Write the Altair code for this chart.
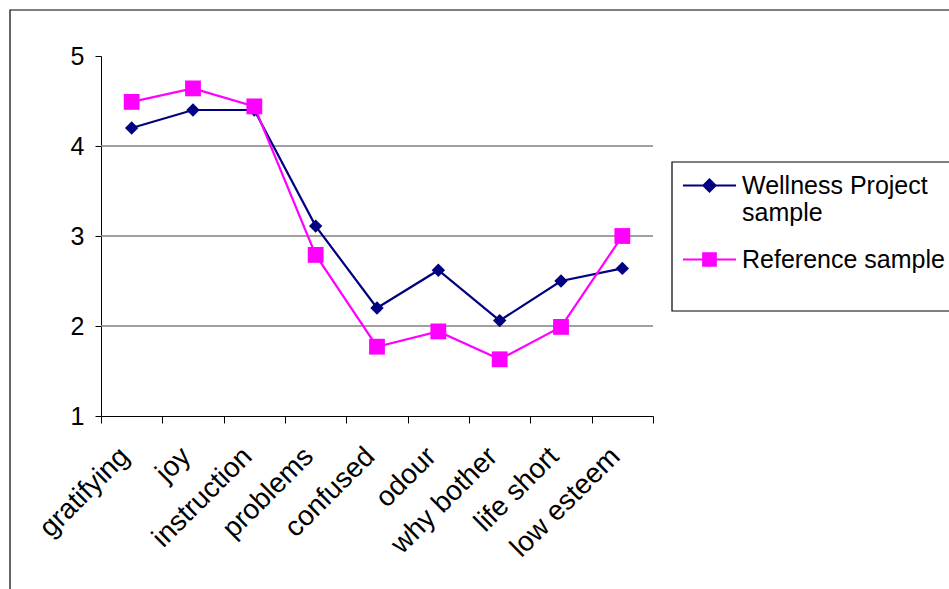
import altair as alt
import pandas as pd

categories = ["gratifying", "joy", "instruction", "problems", "confused",
              "odour", "why bother", "life short", "low esteem"]
wellness = [4.2, 4.4, 4.4, 3.11, 2.2, 2.62, 2.06, 2.5, 2.64]
reference = [4.49, 4.64, 4.44, 2.79, 1.77, 1.94, 1.63, 1.99, 3.0]
series_names = ["Wellness Project sample", "Reference sample"]
series_colors = ["#000080", "#FF00FF"]
y_ticks = [1, 2, 3, 4, 5]
grid_values = [2, 3, 4]

rows = []
for c, w, r in zip(categories, wellness, reference):
    rows.append({"category": c, "series": series_names[0], "value": w})
    rows.append({"category": c, "series": series_names[1], "value": r})
df = pd.DataFrame(rows)

FONT = "Liberation Sans"
FS = 25
W, H = 552, 360

x_enc = alt.X("category:N", sort=categories,
              scale=alt.Scale(paddingInner=0, paddingOuter=0),
              axis=alt.Axis(title=None, labelAngle=315, labelAlign="right",
                            labelBaseline="middle", labelFontSize=28,
                            labelFont=FONT, labelColor="black", labelPadding=29,
                            labelOffset=-7,
                            tickBand="extent", tickSize=7, tickColor="black",
                            domainColor="black", labelLimit=0, grid=False))
y_enc = alt.Y("value:Q", scale=alt.Scale(domain=[1, 5], nice=False, zero=False),
              axis=alt.Axis(title=None, values=y_ticks, grid=False,
                            labelFontSize=FS, labelFont=FONT, labelColor="black",
                            labelPadding=11, tickSize=6, tickColor="black",
                            domainColor="black", format="d"))

base = alt.Chart(df)

frame = alt.Chart(alt.Data(values=[{"a": 1}])).mark_rect(
    fillOpacity=0, stroke="black", strokeWidth=1.2
).encode(x=alt.value(-91), x2=alt.value(1000), y=alt.value(-46), y2=alt.value(700))

legend_box = alt.Chart(alt.Data(values=[{"a": 1}])).mark_rect(
    fill="white", stroke="black", strokeWidth=1.2
).encode(x=alt.value(571), x2=alt.value(1000), y=alt.value(106), y2=alt.value(255))

grid = alt.Chart(pd.DataFrame({"value": grid_values})).mark_rule(
    color="#808080", strokeWidth=1.3
).encode(y=y_enc)

def series_layers(name, color, shape, size):
    sub = base.transform_filter(alt.datum.series == name)
    line = sub.mark_line(color=color, strokeWidth=2.2).encode(x=x_enc, y=y_enc)
    pts = sub.mark_point(color=color, filled=True, shape=shape, size=size, opacity=1).encode(x=x_enc, y=y_enc)
    return [line, pts]

legend_paths = [
    "M-1,0L1,0M-0.23,0L0,-0.23L0.23,0L0,0.23Z",
    "M-1,0L1,0M-0.24,-0.24L0.24,-0.24L0.24,0.24L-0.24,0.24Z",
]
leg = alt.Legend(title=None, orient="none", legendX=581, legendY=102,
                 labelFontSize=FS, labelFont=FONT, labelColor="black",
                 labelLimit=0, labelOffset=5, symbolSize=2809,
                 symbolStrokeWidth=2, rowPadding=6, padding=0,
                 labelBaseline="middle",
                 labelExpr="datum.label == 'Wellness Project sample' ? ['Wellness Project', 'sample'] : datum.label")
legend_layer = base.transform_filter("false").mark_point(opacity=1, strokeWidth=2).encode(
    x=x_enc, y=y_enc,
    fill=alt.Fill("series:N", scale=alt.Scale(domain=series_names, range=series_colors), legend=leg),
    stroke=alt.Stroke("series:N", scale=alt.Scale(domain=series_names, range=series_colors), legend=leg),
    shape=alt.Shape("series:N", scale=alt.Scale(domain=series_names, range=legend_paths), legend=leg),
)

layers = [frame, legend_box, grid]
layers += series_layers(series_names[0], series_colors[0], "diamond", 180)
layers += series_layers(series_names[1], series_colors[1], "square", 250)
layers += [legend_layer]

chart = alt.layer(*layers).properties(
    width=W, height=H, autosize="none", background="white",
    padding={"left": 101, "top": 56, "right": 296, "bottom": 173},
).configure_view(strokeWidth=0, stroke="transparent")

chart.save("out.html", embed_options={"renderer": "svg", "actions": False})
